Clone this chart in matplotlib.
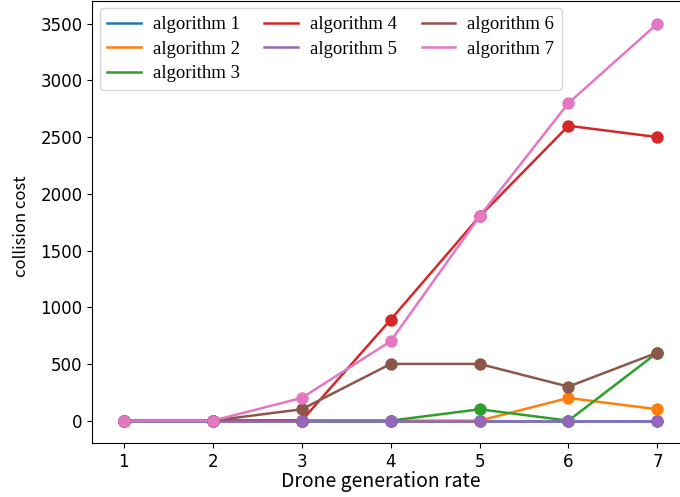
import matplotlib
matplotlib.use("Agg")
import matplotlib.pyplot as plt

rates = [1, 2, 3, 4, 5, 6, 7]
labels = ["algorithm 1", "algorithm 2", "algorithm 3", "algorithm 4",
          "algorithm 5", "algorithm 6", "algorithm 7"]
alg1 = [0, 0, 0, 0, 0, 0, 0]
alg2 = [0, 0, 0, 0, 0, 200, 100]
alg3 = [0, 0, 0, 0, 100, 0, 600]
alg4 = [0, 0, 0, 890, 1800, 2600, 2500]
alg5 = [0, 0, 0, 0, 0, 0, 0]
alg6 = [0, 0, 100, 500, 500, 300, 600]
alg7 = [0, 0, 200, 700, 1800, 2800, 3500]
series = [alg1, alg2, alg3, alg4, alg5, alg6, alg7]
colors = ["#1f77b4", "#ff7f0e", "#2ca02c", "#d62728", "#9467bd", "#8c564b", "#e377c2"]

SANS = ["Noto Sans CJK SC", "DejaVu Sans"]

fig = plt.figure(figsize=(6.8, 4.97), dpi=100)
ax = fig.add_axes([0.1357, 0.108, 0.8775, 0.89])

# lines first (legend handles), then the dots on top in the same order
for vals, lab, c in zip(series, labels, colors):
    ax.plot(rates, vals, color=c, lw=1.8, label=lab)
for vals, c in zip(series, colors):
    ax.scatter(rates, vals, color=c, s=80, zorder=3, linewidths=0)

ax.set_xlim(0.645, 7.355)
ax.set_ylim(-200, 3700)
ax.set_xticks(rates)
ax.set_yticks(range(0, 3501, 500))
ax.tick_params(labelsize=12, labelfontfamily="DejaVu Sans")
ax.set_xlabel("Drone generation rate", fontsize=14, family=SANS)
ax.xaxis.set_label_coords(0.484, -0.062)
ax.set_ylabel("collision cost", fontsize=12, family=SANS)
ax.yaxis.set_label_coords(-0.105, 0.49)

ax.legend(loc="upper left", ncol=3, prop={"family": "Liberation Serif", "size": 13.5},
          handlelength=1.8, handletextpad=0.64, columnspacing=1.3,
          borderaxespad=0.4, labelspacing=0.4)

fig.savefig("out.png", dpi=100)
